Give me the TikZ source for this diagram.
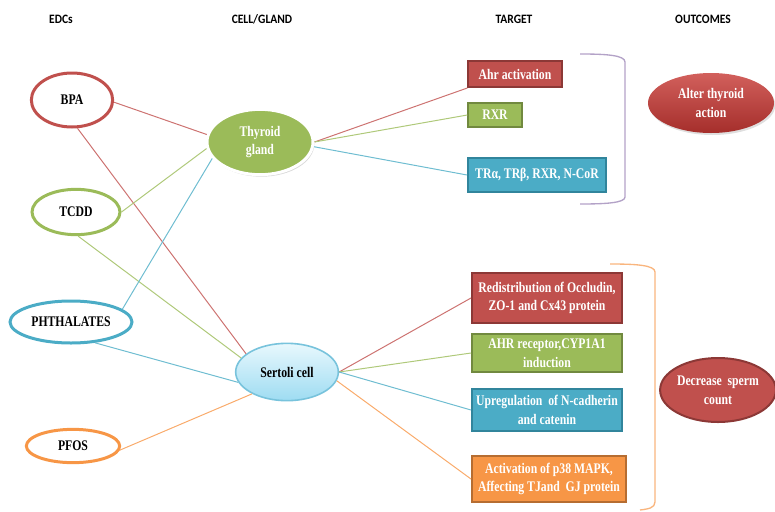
\documentclass[tikz,border=0pt]{standalone}
\usepackage{fontspec}
\setmainfont{Liberation Serif}[FakeStretch=0.8]
\newfontfamily\headfont{Carlito}[FakeStretch=0.9]
\usetikzlibrary{shapes.geometric,shadows}

\definecolor{edcred}{HTML}{C0504D}
\definecolor{edcgreen}{HTML}{9BBB59}
\definecolor{edcblue}{HTML}{4BACC6}
\definecolor{edcorange}{HTML}{F79646}
\definecolor{darkred}{HTML}{8C3836}
\definecolor{darkgreen}{HTML}{71893F}
\definecolor{darkblue}{HTML}{31859C}
\definecolor{darkorange}{HTML}{B66D31}
\definecolor{bracketpurple}{HTML}{B3A2C7}
\definecolor{sertolitop}{HTML}{E8F8FD}
\definecolor{sertolibot}{HTML}{9EDCF2}
\definecolor{sertoliline}{HTML}{78C3DC}
\definecolor{altertop}{HTML}{D2605C}
\definecolor{alterbot}{HTML}{A52E2B}

\tikzset{every picture/.style={line width=0.75pt}}
\tikzset{
  head/.style={font=\headfont\bfseries\fontsize{9.6}{11}\selectfont},
  lbl/.style={font=\bfseries\fontsize{11}{14}\selectfont, align=center},
  edc/.style={ellipse, draw=#1, line width=2.25pt, fill=white, inner sep=0pt, lbl},
  target/.style={rectangle, fill=edc#1, draw=dark#1, line width=1.5pt, inner sep=1pt, text=white, lbl},
  link/.style={draw=#1!80!white, line width=0.75pt},
  bracket/.style={draw=#1, line width=1pt}
}

\begin{document}
\begin{tikzpicture}[x=0.75pt,y=0.75pt,yscale=-1,xscale=1]
	%set diagram to the size of the reference
	\useasboundingbox (0,0) rectangle (775,511);

	% Text Node
	\node[head] (hedc) at (61,19) {EDCs};
	% Text Node
	\node[head] (hcell) at (262,19) {CELL/GLAND};
	% Text Node
	\node[head] (htarget) at (514,19) {TARGET};
	% Text Node
	\node[head] (hout) at (703,19) {OUTCOMES};

	%Shape: Ellipse [EDCs]
	\node[edc=edcred, minimum width=61pt, minimum height=40.5pt] (bpa) at (72,100) {BPA};
	\node[edc=edcgreen, minimum width=66pt, minimum height=34pt] (tcdd) at (76,212) {TCDD};
	\node[edc=edcblue, minimum width=91.5pt, minimum height=31.5pt] (phth) at (71,322) {PHTHALATES};
	\node[edc=edcorange, minimum width=70pt, minimum height=25pt] (pfos) at (73,446) {PFOS};

	%Shape: Ellipse [cell/gland]
	\node[ellipse, fill=edcgreen, draw=white, line width=2.25pt, inner sep=0pt, text=white, lbl,
	      minimum width=79.5pt, minimum height=49pt,
	      drop shadow={opacity=0.3, shadow xshift=1pt, shadow yshift=-1.5pt}] (thyroid) at (260,142) {Thyroid\\gland};
	\node[ellipse, top color=sertolitop, bottom color=sertolibot, draw=sertoliline, line width=1.2pt, inner sep=0pt, lbl,
	      minimum width=77pt, minimum height=43pt] (sertoli) at (287,372) {Sertoli cell};

	%Shape: Rectangle [targets of thyroid]
	\node[target=red, minimum width=70pt, minimum height=19.5pt] (ahr) at (515,74) {Ahr activation};
	\node[target=green, minimum width=40pt, minimum height=18pt] (rxr) at (495,115) {RXR};
	\node[target=blue, minimum width=103.5pt, minimum height=25pt] (tr) at (537,175) {TRα, TRβ, RXR, N-CoR};

	%Shape: Rectangle [targets of sertoli cell]
	\node[target=red, minimum width=112.5pt, minimum height=38pt] (redist) at (547,298) {Redistribution of Occludin,\\ZO-1 and Cx43 protein};
	\node[target=green, minimum width=112.5pt, minimum height=29pt] (ahrrec) at (547,353) {AHR receptor,CYP1A1\\induction};
	\node[target=blue, minimum width=112.5pt, minimum height=32pt] (upreg) at (547,410) {Upregulation\ \ of N-cadherin\\and catenin};
	\node[target=orange, minimum width=115.5pt, minimum height=35pt] (mapk) at (549,479) {Activation of p38 MAPK,\\Affecting TJand\ \ GJ protein};

	%Shape: Ellipse [outcomes]
	\node[ellipse, top color=altertop, bottom color=alterbot, draw=none, inner sep=0pt, text=white, lbl,
	      minimum width=94.5pt, minimum height=45pt,
	      drop shadow={opacity=0.25, shadow xshift=1pt, shadow yshift=-1.5pt}] (alter) at (711,103) {Alter thyroid\\action};
	\node[ellipse, fill=edcred, draw=darkred, line width=1.5pt, inner sep=0pt, text=white, lbl,
	      minimum width=85.5pt, minimum height=48pt] (sperm) at (718,390) {Decrease\ \ sperm\\count};

	%Straight Lines [EDCs to cell/gland]
	\draw[link=edcred] (bpa.-3) -- (thyroid.172);
	\draw[link=edcred] (bpa.-79) -- (sertoli.156);
	\draw[link=edcgreen] (tcdd.0) -- (thyroid.187);
	\draw[link=edcgreen] (tcdd.-85) -- (sertoli.163);
	\draw[link=edcblue] (phth.14) -- (thyroid.-161);
	\draw[link=edcblue] (phth.-41) -- (sertoli.-168);
	\draw[link=edcorange] (pfos.-5) -- (sertoli.-148);

	%Straight Lines [cell/gland to targets]
	\draw[link=edcred] (thyroid.east) -- (ahr.south west);
	\draw[link=edcgreen] (thyroid.east) -- (rxr.west);
	\draw[link=edcblue] (thyroid.-5) -- (tr.west);
	\draw[link=edcred] (sertoli.east) -- (redist.west);
	\draw[link=edcgreen] (sertoli.east) -- (ahrrec.west);
	\draw[link=edcblue] (sertoli.east) -- (upreg.west);
	\draw[link=edcorange] (sertoli.-10) -- (mapk.west);

	%Shape: Bracket
	\draw[bracket=bracketpurple] (580,54) .. controls (605,54) and (625,55) .. (625,62) -- (625,197) .. controls (625,203) and (605,204) .. (580,204);
	\draw[bracket=edcorange!70!white] (610,264) .. controls (635,264) and (655,265) .. (655,272) -- (655,502) .. controls (655,508) and (648,509) .. (640,510);

\end{tikzpicture}
\end{document}
